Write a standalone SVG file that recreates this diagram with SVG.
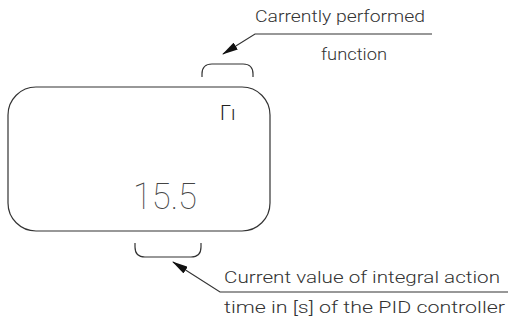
<svg xmlns="http://www.w3.org/2000/svg" width="509" height="321" viewBox="0 0 509 321">
<style>
.ln{fill:none;stroke:#333;stroke-width:1.2}
.t{font-family:Roboto,"Liberation Sans",sans-serif;font-weight:300;fill:#333;font-size:17px}
.d{font-family:Roboto,"Liberation Sans",sans-serif;font-weight:100;fill:#444}
</style>
<defs>
<marker id="ah" markerWidth="16" markerHeight="8" refX="15" refY="4" orient="auto" markerUnits="userSpaceOnUse">
<path d="M0,0 L16,4 L0,8 z" fill="#111"/>
</marker>
</defs>
<g id="display">
<rect class="ln" x="8" y="87" width="262" height="144" rx="28" ry="28"/>
<text x="220" y="120" font-size="20" font-family="Roboto,'Liberation Sans',sans-serif" font-weight="300" fill="#222">Γı</text>
<text class="d" x="133" y="209" font-size="37" textLength="64" lengthAdjust="spacingAndGlyphs">15.5</text>
</g>
<g id="bracket-top">
<path class="ln" d="M202,77 V74 Q202,64 212,64 H243 Q253,64 253,74 V77"/>
</g>
<g id="bracket-bottom">
<path class="ln" d="M135,243 V247 Q135,257 145,257 H191 Q201,257 201,247 V243"/>
</g>
<g id="label-top">
<text class="t" x="255" y="22" textLength="170" lengthAdjust="spacingAndGlyphs">Carrently performed</text>
<text class="t" x="321" y="60" textLength="66" lengthAdjust="spacingAndGlyphs">function</text>
</g>
<g id="label-bottom">
<text class="t" x="224" y="283" textLength="276" lengthAdjust="spacingAndGlyphs">Current value of integral action</text>
<text class="t" x="224" y="313" textLength="281" lengthAdjust="spacingAndGlyphs">time in [s] of the PID controller</text>
</g>
<g id="connectors">
<path class="ln" d="M432,34 H255 L223,54" marker-end="url(#ah)"/>
<path class="ln" d="M508,292 H220 L173,262" marker-end="url(#ah)"/>
</g>
</svg>
